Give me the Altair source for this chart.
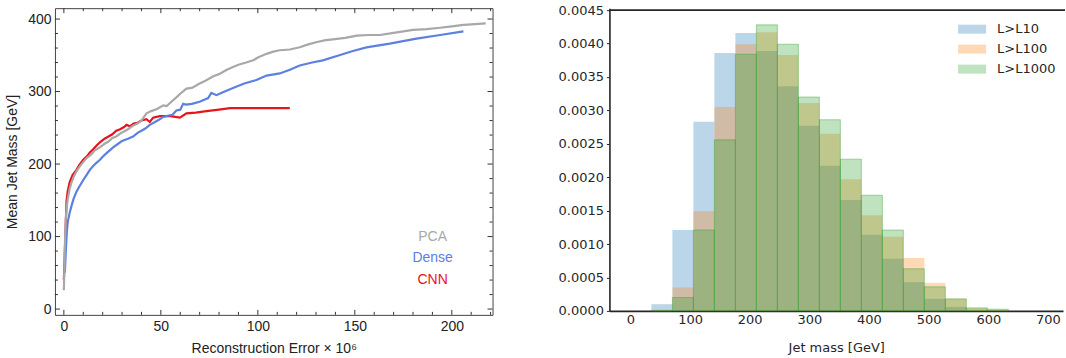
import altair as alt
import pandas as pd

# ---------------- Left panel data ----------------
pca_x = [0, 0.3, 0.6, 1, 1.5, 2, 3, 4, 5, 6.5, 8, 10, 12, 14, 16, 18.5, 21, 23, 25, 27, 29, 31, 33, 35.7, 38, 40,
         42.6, 45, 48, 51.2, 53, 56.3, 58, 60, 63.2, 66, 70, 73, 77, 80, 84, 87.2, 90, 94, 97.6, 100, 104.5, 108,
         111.3, 116.5, 121.6, 126, 130, 135, 138.7, 145, 151, 157, 163, 170, 180, 187, 194, 200, 206, 212, 217.5]
pca_y = [26, 60, 95, 125, 140, 152, 166, 175, 182, 190, 196, 203, 209, 213, 219, 223, 228, 231, 236, 238, 242, 245,
         248, 253, 256, 260, 270, 273, 276, 281, 280, 288, 292, 297, 304, 305, 311, 315, 321, 324, 330, 334, 337, 340,
         343, 347, 352, 355, 357, 358, 361, 365, 368, 371, 372, 374, 377, 378, 378, 381, 385, 386, 388, 390, 392, 393, 394]

dense_x = [0.5, 1, 1.5, 2, 3, 4, 5, 6.5, 8, 10, 12, 13.4, 15, 16.5, 18.6, 20, 22, 25.4, 28, 30, 33, 35.7, 38, 40, 42,
           44.3, 47, 49, 51.2, 54, 56, 58, 60, 61.5, 63, 66, 70, 74.4, 76, 78.7, 82, 87.2, 93, 99.3, 104.5, 111.3,
           116.5, 121.6, 128, 133.5, 142, 149, 156, 168, 181.8, 194, 206]
dense_y = [50, 80, 105, 120, 133, 143, 152, 162, 169, 178, 186, 192, 197, 201, 206, 210, 215, 223, 228, 232, 235, 238,
           243, 246, 249, 254, 258, 261, 265, 267, 268, 274, 275, 283, 282, 283, 286, 291, 298, 295, 299, 305, 311,
           316, 322, 325, 330, 336, 340, 343, 350, 356, 361, 366, 373, 378, 383]

cnn_x = [0, 0.5, 1, 1.4, 2, 3, 4.5, 6.5, 8, 10, 12, 13.4, 15, 17, 18.6, 21, 23, 25, 27, 29, 31, 32.3, 34, 36, 38, 40,
         42.6, 44.3, 46, 49.5, 55, 59.8, 63.2, 68, 73.5, 80, 85.6, 100, 116.5]
cnn_y = [40, 80, 120, 150, 163, 175, 185, 192, 199, 206, 211, 216, 220, 226, 230, 235, 238, 241, 246, 248, 251, 254,
         252, 256, 257, 260, 262, 258, 264, 266, 266, 264, 270, 271, 273, 275, 277, 277, 277]

series_names = ["PCA", "Dense", "CNN"]
series_colors = ["#a8a8a8", "#5b80e0", "#e8141c"]

x_major = [0, 50, 100, 150, 200]
x_minor = [v for v in range(0, 221, 10) if v % 50 != 0]
y_major = [0, 100, 200, 300, 400]
y_minor = [v for v in range(0, 415, 20) if v % 100 != 0]

# ---------------- Right panel data ----------------
bin_lo = [35.2, 70.4, 105.6, 140.8, 176.0, 211.2, 246.4, 281.6, 316.8, 352.0, 387.2, 422.4, 457.6, 492.8, 528.0,
          563.2, 598.4]
bin_hi = [70.4, 105.6, 140.8, 176.0, 211.2, 246.4, 281.6, 316.8, 352.0, 387.2, 422.4, 457.6, 492.8, 528.0, 563.2,
          598.4, 633.6]
h_l10 = [0.00010, 0.00121, 0.00283, 0.00386, 0.00416, 0.00389, 0.00336, 0.00277, 0.00217, 0.00166, 0.00114,
         0.00078, 0.00043, 0.00018, 0.00006, 0.0, 0.0]
h_l100 = [0.00002, 0.00035, 0.00149, 0.00305, 0.00399, 0.00417, 0.00383, 0.00311, 0.00265, 0.00197, 0.00143,
          0.00111, 0.00079, 0.00042, 0.00018, 0.00004, 0.00001]
h_l1000 = [0.0, 0.00020, 0.00121, 0.00256, 0.00384, 0.00428, 0.00399, 0.00320, 0.00286, 0.00227, 0.00173,
           0.00121, 0.00063, 0.00036, 0.00018, 0.000045, 0.000025]
hist_names = ["L>L10", "L>L100", "L>L1000"]
hist_colors = ["#1f77b4", "#ff7f0e", "#2ca02c"]
hx_ticks = [0, 100, 200, 300, 400, 500, 600, 700]
hy_ticks = [0.0, 0.0005, 0.0010, 0.0015, 0.0020, 0.0025, 0.0030, 0.0035, 0.0040, 0.0045]

# ---------------- Left panel ----------------
LW, LH = 438, 307
LX = [-4.6, 221.0]
LY = [-8.0, 415.0]
LFONT = "Liberation Sans"

xs = alt.Scale(domain=LX, nice=False, zero=False)
ys = alt.Scale(domain=LY, nice=False, zero=False)

lx_axis = alt.Axis(values=x_major, ticks=False, domain=False, grid=False,
                   title="Reconstruction Error × 10⁶", labelFont=LFONT, titleFont=LFONT,
                   labelFontSize=14, titleFontSize=14, labelColor="#222", titleColor="#222",
                   titleFontWeight="normal", labelPadding=5, titlePadding=8)
ly_axis = alt.Axis(values=y_major, ticks=False, domain=False, grid=False,
                   title="Mean Jet Mass [GeV]", labelFont=LFONT, titleFont=LFONT,
                   labelFontSize=14, titleFontSize=14, labelColor="#222", titleColor="#222",
                   titleFontWeight="normal", labelPadding=4, titlePadding=8)

def line_layer(name, xv, yv, color):
    df = pd.DataFrame({"x": xv, "y": yv, "model": name})
    return alt.Chart(df).mark_line(color=color, strokeWidth=2.2, clip=True).encode(
        x=alt.X("x:Q", scale=xs, axis=lx_axis),
        y=alt.Y("y:Q", scale=ys, axis=ly_axis),
        order=alt.Order("x:Q"),
    )

lines = [line_layer(series_names[2], cnn_x, cnn_y, series_colors[2]),
         line_layer(series_names[1], dense_x, dense_y, series_colors[1]),
         line_layer(series_names[0], pca_x, pca_y, series_colors[0])]

def xticks(vals, length):
    df = pd.DataFrame({"t": vals})
    bot = alt.Chart(df).mark_rule(color="#333", strokeWidth=1).encode(
        x=alt.X("t:Q", scale=xs, axis=lx_axis), y=alt.value(LH), y2=alt.value(LH - length))
    top = alt.Chart(df).mark_rule(color="#333", strokeWidth=1).encode(
        x=alt.X("t:Q", scale=xs, axis=lx_axis), y=alt.value(0), y2=alt.value(length))
    return [bot, top]

def yticks(vals, length):
    df = pd.DataFrame({"t": vals})
    lft = alt.Chart(df).mark_rule(color="#333", strokeWidth=1).encode(
        y=alt.Y("t:Q", scale=ys, axis=ly_axis), x=alt.value(0), x2=alt.value(length))
    rgt = alt.Chart(df).mark_rule(color="#333", strokeWidth=1).encode(
        y=alt.Y("t:Q", scale=ys, axis=ly_axis), x=alt.value(LW), x2=alt.value(LW - length))
    return [lft, rgt]

tick_layers = xticks(x_major, 5) + xticks(x_minor, 3) + yticks(y_major, 5) + yticks(y_minor, 3)

leg_rows = [229, 250.5, 272]
leg_layers = []
for nm, col, yy in zip(series_names, series_colors, leg_rows):
    leg_layers.append(
        alt.Chart(pd.DataFrame({"name": [nm]})).mark_text(
            font=LFONT, fontSize=14, align="center", baseline="middle", color=col
        ).encode(text="name:N", x=alt.value(378), y=alt.value(yy))
    )

left = alt.layer(*lines, *tick_layers, *leg_layers).properties(
    width=LW, height=LH, view=alt.ViewBackground(stroke="#444", strokeWidth=1)
)

# ---------------- Right panel ----------------
RW, RH = 454, 303
RFONT = "DejaVu Sans"
TXT = "#262626"

hxs = alt.Scale(domain=[-35.2, 725.3], nice=False, zero=False)
hys = alt.Scale(domain=[0, 0.00453], nice=False, zero=False)

x_axis = alt.Axis(values=hx_ticks, ticks=False, grid=False, domain=True, domainColor=TXT,
                  domainWidth=1.6, title="Jet mass [GeV]", labelFont=RFONT, titleFont=RFONT,
                  labelFontSize=13, titleFontSize=13, labelColor=TXT, titleColor=TXT,
                  titleFontWeight="normal", labelPadding=3, titlePadding=15)
y_axis = alt.Axis(values=hy_ticks, format=".4f", ticks=True, tickSize=3, tickColor=TXT, grid=False,
                  domain=True, domainColor=TXT, domainWidth=1.6, title=None, labelFont=RFONT,
                  labelFontSize=13, labelColor=TXT, labelPadding=3, labelOverlap=False)

def hist_layer(name, vals, color, edge):
    df = pd.DataFrame({"lo": bin_lo, "hi": bin_hi, "v": vals})
    return alt.Chart(df).mark_rect(fill=color, fillOpacity=0.3,
                                   stroke=color, strokeWidth=(1 if edge else 0),
                                   strokeOpacity=(0.4 if edge else 0)).encode(
        x=alt.X("lo:Q", scale=hxs, axis=x_axis),
        x2="hi:Q",
        y=alt.Y("v:Q", scale=hys, axis=y_axis),
        y2=alt.datum(0),
    )

hist_layers = [hist_layer(hist_names[0], h_l10, hist_colors[0], False),
               hist_layer(hist_names[1], h_l100, hist_colors[1], False),
               hist_layer(hist_names[2], h_l1000, hist_colors[2], True)]

top_rule = alt.Chart(pd.DataFrame({"t": [0.0045]})).mark_rule(color=TXT, strokeWidth=1.6).encode(
    y=alt.Y("t:Q", scale=hys, axis=y_axis), x=alt.value(0), x2=alt.value(RW + 2))

hleg_rows = [21, 41, 61]
hleg_layers = []
for nm, col, yy in zip(hist_names, hist_colors, hleg_rows):
    d = pd.DataFrame({"name": [nm]})
    hleg_layers.append(
        alt.Chart(d).mark_rect(fill=col, fillOpacity=0.3).encode(
            x=alt.value(349), x2=alt.value(377), y=alt.value(yy - 4.5), y2=alt.value(yy + 4.5))
    )
    hleg_layers.append(
        alt.Chart(d).mark_text(font=RFONT, fontSize=13, align="left", baseline="middle", color=TXT).encode(
            text="name:N", x=alt.value(388), y=alt.value(yy))
    )

right = alt.layer(*hist_layers, top_rule, *hleg_layers).properties(
    width=RW, height=RH, view=alt.ViewBackground(stroke=None)
)

chart = alt.hconcat(left, right, spacing=64).properties(
    padding={"left": 5, "top": 4, "right": 0, "bottom": 0}
)

chart.save("out.html", embed_options={"renderer": "svg", "actions": False})
